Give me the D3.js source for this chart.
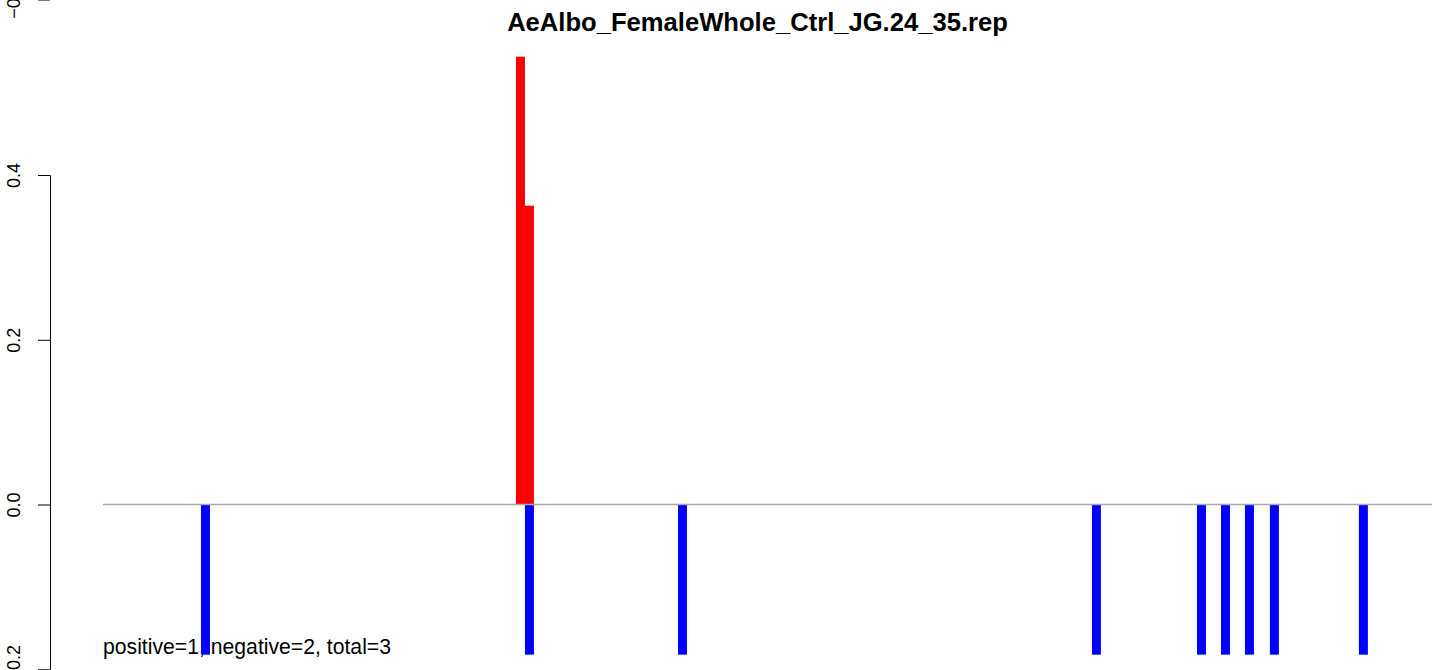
<!DOCTYPE html>
<html>
<head>
<meta charset="utf-8">
<script src="https://cdn.jsdelivr.net/npm/d3@7"></script>
<style>
  html, body { margin: 0; padding: 0; background: #fff; }
  svg { display: block; font-family: "Liberation Sans", Arial, Helvetica, sans-serif; }
</style>
</head>
<body>
<svg id="chart" width="1444" height="670"></svg>
<script>
// ---- data ----
const title = "AeAlbo_FemaleWhole_Ctrl_JG.24_35.rep";
const positivePositions = [46.49, 47.49];
const positiveValues = [0.5436, 0.3627];
const negativePositions = [11.41, 47.49, 64.53, 110.63, 122.33, 125.0, 127.67, 130.45, 140.36];
const negativeValues = [-0.1823, -0.1823, -0.1823, -0.1823, -0.1823, -0.1823, -0.1823, -0.1823, -0.1823];
const yTicks = [-0.2, 0.0, 0.2, 0.4];
const upperPanelTicks = [-0.2];
const xExtent = [0, 148];
const summaryText = "positive=1, negative=2, total=3";

// ---- layout ----
const svg = d3.select("#chart");
const axisX = 50;
const x = d3.scaleLinear().domain(xExtent).range([103, 1432]);
const y = d3.scaleLinear().domain([-0.2, 0.4]).range([669.25, 175]);
const barW = x(1) - x(0);
const fmt = d3.format(".1f");
const labelSize = "18px";

// title
svg.append("text")
  .attr("x", 757.5).attr("y", 31)
  .attr("text-anchor", "middle")
  .attr("font-weight", "bold")
  .attr("font-size", "25.6px")
  .text(title);

// y axis
const yAxis = d3.axisLeft(y).tickValues(yTicks).tickFormat(fmt).tickSize(12).tickSizeOuter(0);
const gy = svg.append("g").attr("transform", `translate(${axisX},0)`).call(yAxis);
gy.select(".domain").attr("stroke", "#000");
gy.selectAll(".tick line").attr("stroke", "#000");
gy.selectAll(".tick text")
  .attr("x", 0).attr("dy", 0)
  .attr("fill", "#000")
  .attr("font-size", labelSize)
  .attr("font-family", "Liberation Sans, Arial, sans-serif")
  .attr("text-anchor", "middle")
  .attr("transform", d => `translate(-30.5,${d === yTicks[0] ? -7 : 0}) rotate(-90)`);

// remnant of the panel above (its bottom tick, cut by the image edge)
const gUp = svg.append("g").attr("transform", `translate(${axisX},0)`);
upperPanelTicks.forEach(t => {
  gUp.append("line").attr("x1", -12).attr("x2", 0).attr("y1", 0).attr("y2", 0).attr("stroke", "#000");
  gUp.append("text")
    .attr("font-size", labelSize)
    .attr("text-anchor", "middle")
    .attr("transform", "translate(-30.5,1) rotate(-90)")
    .text(fmt(t));
});

// summary text (drawn under bars)
svg.append("text")
  .attr("x", x(xExtent[0])).attr("y", 654)
  .attr("font-size", "21.2px")
  .attr("fill", "#000")
  .text(summaryText);

// positive bars
svg.append("g").selectAll("rect")
  .data(positivePositions.map((p, i) => ({ p, v: positiveValues[i] })))
  .join("rect")
  .attr("x", d => x(d.p) - barW / 2)
  .attr("width", barW)
  .attr("y", d => y(d.v))
  .attr("height", d => y(0) - y(d.v))
  .attr("fill", "#ff0000");

// negative bars
svg.append("g").selectAll("rect")
  .data(negativePositions.map((p, i) => ({ p, v: negativeValues[i] })))
  .join("rect")
  .attr("x", d => x(d.p) - barW / 2)
  .attr("width", barW)
  .attr("y", y(0))
  .attr("height", d => y(d.v) - y(0))
  .attr("fill", "#0000ff");

// zero line
svg.append("line")
  .attr("x1", x(xExtent[0])).attr("x2", x(xExtent[1]))
  .attr("y1", y(0)).attr("y2", y(0))
  .attr("stroke", "#a9a9a9")
  .attr("stroke-width", 1.5);
</script>
</body>
</html>
